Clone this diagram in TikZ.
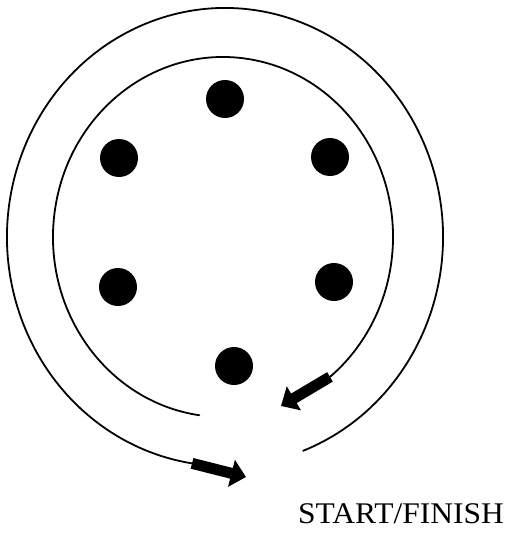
\documentclass[tikz,border=0pt]{standalone}
\usepackage{fontspec}
\setmainfont{Liberation Serif}
\usetikzlibrary{arrows.meta}
\tikzset{
  track/.style={line width=1.8pt, line cap=round, line join=round},
  dot/.style={circle, fill=black, minimum size=38pt, inner sep=0pt},
  blockarrow/.style={line width=11pt, -{Triangle[length=15pt,width=27pt]}},
  label/.style={font=\fontsize{30}{32}\selectfont, inner sep=0pt, anchor=base}
}
\begin{document}
\begin{tikzpicture}[x=1pt,y=-1pt]
\useasboundingbox (0,0) rectangle (512,543);
% dots
\node[dot] (d1) at (225,99) {};
\node[dot] (d2) at (119,158) {};
\node[dot] (d3) at (330,157) {};
\node[dot] (d4) at (118,287) {};
\node[dot] (d5) at (334,282) {};
\node[dot] (d6) at (234,366) {};
% outer track: ellipse centre (225,237), radii 218 x 229
\coordinate (os) at ({225+218*cos(69)},{237+229*sin(69)});
\draw[track] (os) arc[start angle=69, end angle=-261.3, x radius=218, y radius=229] coordinate (oa);
\coordinate (ot) at (246,477);
\draw[blockarrow] (oa) -- (ot);
% inner track: ellipse centre (223,237), radii 170 x 180
\coordinate (is) at ({223+170*cos(98)},{237+180*sin(98)});
\draw[track] (is) arc[start angle=98, end angle=411, x radius=170, y radius=180] coordinate (ia);
\coordinate (it) at (281,406);
\draw[blockarrow] (ia) -- (it);
% label
\node[label, xscale=1.05] (lab) at (401,523) {START/FINISH};
\end{tikzpicture}
\end{document}
